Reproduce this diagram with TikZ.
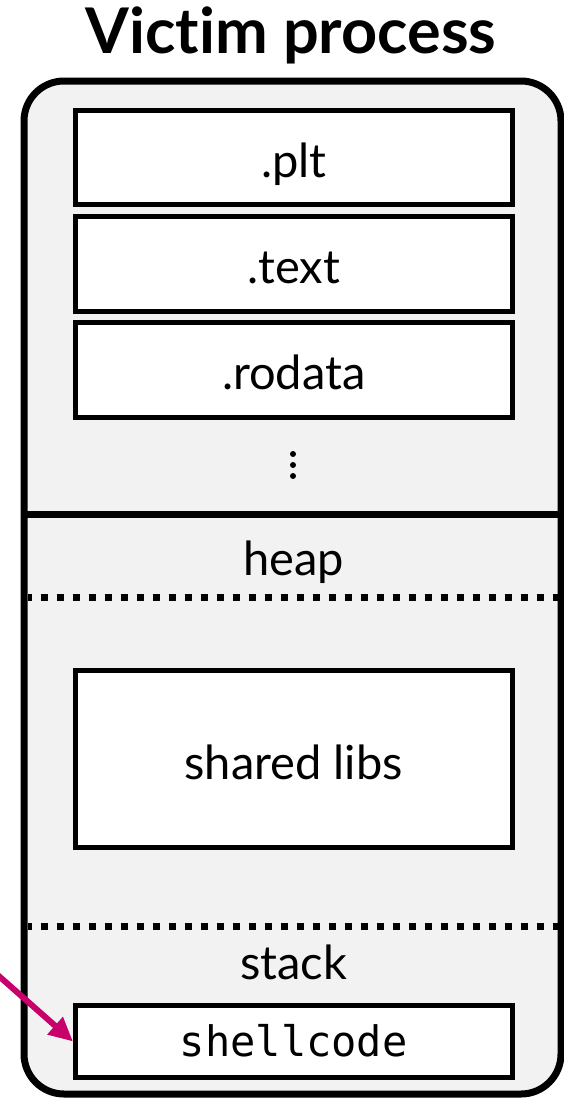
\documentclass[tikz,border=0pt]{standalone}
\usepackage{fontspec}
\setmainfont{Lato}[Ligatures={NoCommon,NoRare}]
\newfontfamily\monofont{DejaVu Sans Mono}
\usetikzlibrary{arrows.meta}
\definecolor{panelgray}{HTML}{F2F2F2}
\definecolor{attack}{HTML}{C7006B}
\tikzset{
  procbox/.style={draw=black, line width=7pt, fill=panelgray, rounded corners=40pt, inner sep=0pt},
  membox/.style={draw=black, line width=5pt, fill=white, minimum width=436.5pt, inner sep=0pt,
                 font=\fontsize{47}{50}\selectfont, text height=40pt, text depth=0pt},
  seglabel/.style={font=\fontsize{47}{50}\selectfont, anchor=base, inner sep=0pt},
  solidsep/.style={line width=7pt},
  dotsep/.style={line width=7pt, dash pattern=on 7pt off 9pt, dash phase=3pt},
  attackarrow/.style={draw=attack, line width=6pt, -{Triangle[length=24pt, width=22pt]}}
}
\begin{document}
\begin{tikzpicture}[x=1pt, y=-1pt]
\useasboundingbox (0,0) rectangle (564,1098);
\node[font=\fontsize{63}{66}\selectfont\bfseries, anchor=base, inner sep=0pt] (title) at (291,53) {Victim process};
\node[procbox, minimum width=537pt, minimum height=1013pt] (proc) at (292.5,587.5) {};
\node[membox, minimum height=94.5pt] (plt) at (293.75,157.25) {.plt};
\node[membox, minimum height=94.5pt] (text) at (293.75,263.75) {.text};
\node[membox, minimum height=95pt] (rodata) at (293.75,369.5) {.rodata};
\foreach \y in {454,465,476} \fill (293,\y) circle (3pt);
\draw[solidsep] (24,514) -- (561,514);
\node[seglabel] (heap) at (293.75,575) {heap};
\draw[dotsep] (27.5,597) -- (557.5,597);
\node[membox, minimum height=177pt] (libs) at (293.75,759) {shared libs};
\draw[dotsep] (27.5,926.5) -- (557.5,926.5);
\node[seglabel] (stack) at (293.75,979) {stack};
\node[membox, minimum height=72pt, font=\monofont\fontsize{42}{44}\selectfont, text height=29pt] (sc) at (293.75,1041.5) {shellcode};
\coordinate (src) at (-8,970);
\draw[attackarrow] (src) -- (sc.west);
\end{tikzpicture}
\end{document}
